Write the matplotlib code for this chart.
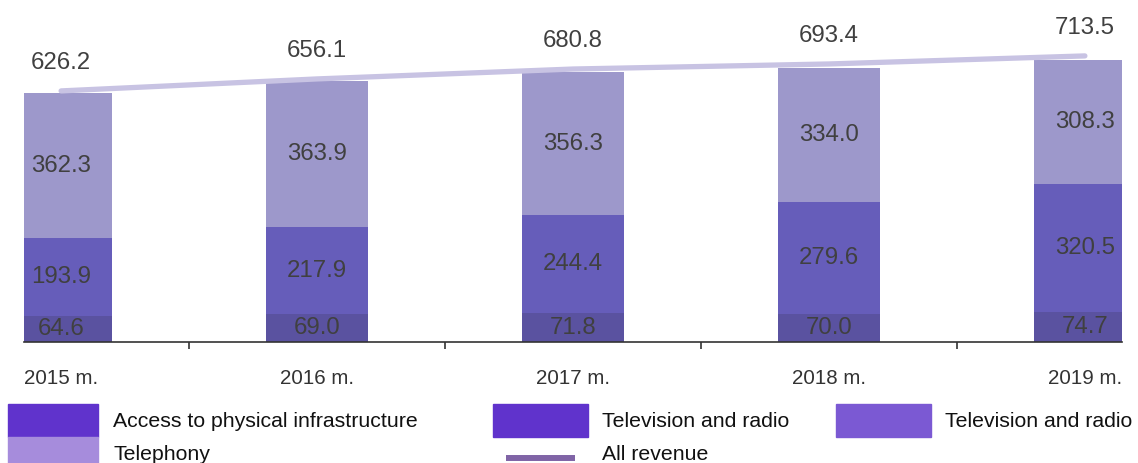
import matplotlib
matplotlib.use("Agg")
import matplotlib.pyplot as plt
from matplotlib.patches import Patch
from matplotlib.lines import Line2D
from matplotlib.legend_handler import HandlerLine2D
import numpy as np

plt.rcParams["font.family"] = ["Liberation Sans", "DejaVu Sans"]

years = ["2015 m.", "2016 m.", "2017 m.", "2018 m.", "2019 m."]
infrastructure = [64.6, 69.0, 71.8, 70.0, 74.7]
television = [193.9, 217.9, 244.4, 279.6, 320.5]
telephony = [362.3, 363.9, 356.3, 334.0, 308.3]
all_revenue = [626.2, 656.1, 680.8, 693.4, 713.5]

W, H = 1138, 463
fig = plt.figure(figsize=(W / 100, H / 100), dpi=100)
ax = fig.add_axes([24 / W, 1 - 342 / H, (1122 - 24) / W, (342 - 10) / H])

x = np.arange(len(years))
bw = 0.4
seg_colors = ["#5a52a0", "#665dba", "#9d98cb"]
txt = "#404040"

bottom = np.zeros(len(years))
for vals, col in zip([infrastructure, television, telephony], seg_colors):
    vals = np.array(vals)
    bars = ax.bar(x, vals, bw, bottom=bottom, color=col, linewidth=0, zorder=2)
    for xi, b, v in zip(x, bottom, vals):
        ax.text(xi, b + v / 2, f"{v:.1f}", ha="center", va="center",
                fontsize=17.3, color=txt, zorder=4)
    bottom += vals

ax.plot(x, all_revenue, color="#c8c3e3", lw=3.8, solid_capstyle="round", zorder=3)
for xi, v in zip(x, all_revenue):
    ax.annotate(f"{v:.1f}", (xi, v), xytext=(0, 20), textcoords="offset points",
                ha="center", va="center", fontsize=17.3, color=txt,
                annotation_clip=False)

ax.set_xlim(-0.145, 4.145)
ax.set_ylim(0, 828)
ax.set_xticks(x)
ax.set_xticklabels(years, fontsize=14.8, color="#333333")
ax.set_xticks(x[:-1] + 0.5, minor=True)
ax.tick_params(axis="x", which="major", length=0, pad=19.5)
ax.tick_params(axis="x", which="minor", length=5, width=1.2, color="#333333", direction="out")
ax.set_yticks([])
for s in ["top", "left", "right"]:
    ax.spines[s].set_visible(False)
ax.spines["bottom"].set_color("#333333")
ax.spines["bottom"].set_linewidth(1.2)


# legend line sits a bit low in its row in the original
class LowLine(HandlerLine2D):
    def create_artists(self, legend, orig_handle, xdescent, ydescent,
                       width, height, fontsize, trans):
        arts = super().create_artists(legend, orig_handle, xdescent, ydescent,
                                      width, height, fontsize, trans)
        for a in arts:
            a.set_ydata(np.asarray(a.get_ydata()) - 7.2)
        return arts


fs = 15.3
common = dict(frameon=False, fontsize=fs, loc="upper left", borderpad=0,
              borderaxespad=0, handleheight=2.0, handletextpad=0.7,
              labelspacing=0.0, labelcolor="#111111")

rev_line = Line2D([], [], color="#8064a6", lw=4.3, solid_capstyle="butt")
fig.legend(handles=[Patch(color="#6033cc"), Patch(color="#a68cdc")],
           labels=["Access to physical infrastructure", "Telephony"],
           bbox_to_anchor=(8 / W, 1 - 404 / H), handlelength=4.25, **common)
fig.legend(handles=[Patch(color="#6033cc"), rev_line],
           labels=["Television and radio", "All revenue"],
           handler_map={rev_line: LowLine(numpoints=2, marker_pad=0.6)},
           bbox_to_anchor=(493 / W, 1 - 404 / H), handlelength=4.45, **common)
fig.legend(handles=[Patch(color="#7b59d3")],
           labels=["Television and radio"],
           bbox_to_anchor=(836 / W, 1 - 404 / H), handlelength=4.45, **common)

fig.savefig("out.png", dpi=100)
